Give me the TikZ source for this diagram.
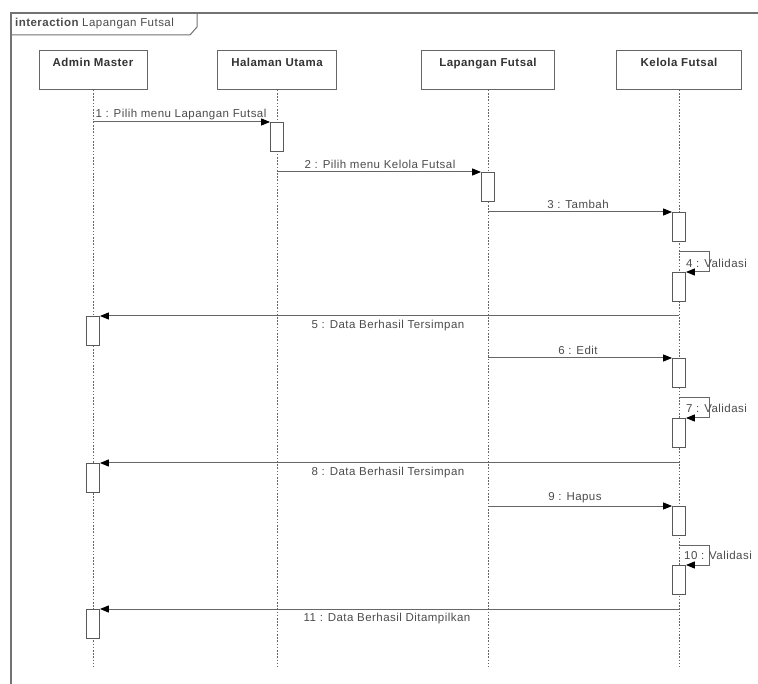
\documentclass[tikz,border=0pt]{standalone}
\usepackage{fontspec}
\newfontfamily\diag[LetterSpace=4]{Liberation Sans}
\usetikzlibrary{arrows.meta}
\begin{document}
\begin{tikzpicture}[x=1pt,y=-1pt,
  every node/.style={font=\diag\fontsize{11.5}{13}\selectfont, text=black!70, inner sep=0pt},
  frameline/.style={draw=black!55, line width=1.3pt},
  head/.style={draw=black!60, line width=0.9pt, fill=white, anchor=north,
     minimum width=#1, text height=8pt, text depth=15pt, inner ysep=8pt, font=\diag\bfseries\fontsize{11.5}{13}\selectfont, text=black!80},
  life/.style={draw=black!60, line width=0.8pt, dash pattern=on 1.6pt off 1.6pt},
  act/.style={draw=black!65, fill=white, line width=0.8pt, minimum width=13pt, minimum height=29pt, anchor=north},
  msg/.style={draw=black!60, line width=1pt, -{Triangle[length=9pt,width=7pt,black]}},
  lbl/.style={anchor=south},
  rlbl/.style={anchor=north},
  slbl/.style={anchor=west}
]
\useasboundingbox (0,0) rectangle (758,684);
\fill[white] (0,0) rectangle (758,684);
\begin{scope}
\clip (0,0) rectangle (758,684);
\draw[frameline] (11,13) rectangle (800,720);
\end{scope}
\draw[draw=black!55, line width=1pt] (11,35) -- (190,35) -- (197,27) -- (197,13);
\node[anchor=west] (title) at (15,24) {\bfseries interaction \mdseries Lapangan Futsal};

% lifeline heads
\node[head=108pt] (hA) at (93,50) {Admin Master};
\node[head=119pt] (hH) at (277,50) {Halaman Utama};
\node[head=133pt] (hL) at (488,50) {Lapangan Futsal};
\node[head=125pt] (hK) at (679,50) {Kelola Futsal};

\coordinate (eA) at (93,666);
\coordinate (eH) at (277,666);
\coordinate (eL) at (488,666);
\coordinate (eK) at (679,666);
\draw[life] (hA.south) -- (eA);
\draw[life] (hH.south) -- (eH);
\draw[life] (hL.south) -- (eL);
\draw[life] (hK.south) -- (eK);

% activations
\node[act] (a1) at (277,122) {};
\node[act] (a2) at (488,172) {};
\node[act] (a3) at (679,212) {};
\node[act] (a4) at (679,272) {};
\node[act] (a5) at (93,316) {};
\node[act] (a6) at (679,358) {};
\node[act] (a7) at (679,418) {};
\node[act] (a8) at (93,463) {};
\node[act] (a9) at (679,506) {};
\node[act] (a10) at (679,565) {};
\node[act] (a11) at (93,609) {};

% message start points
\coordinate (s1) at (93,122);
\coordinate (s2) at (277,172);
\coordinate (s3) at (488,212);
\coordinate (s4) at (679,252);
\coordinate (s5) at (679,316);
\coordinate (s6) at (488,358);
\coordinate (s7) at (679,398);
\coordinate (s8) at (679,463);
\coordinate (s9) at (488,506);
\coordinate (s10) at (679,545);
\coordinate (s11) at (679,609);

\draw[msg] (s1) -- (a1.north west);
\draw[msg] (s2) -- (a2.north west);
\draw[msg] (s3) -- (a3.north west);
\draw[msg] (s4) -- ++(30,0) |- (a4.north east);
\draw[msg] (s5) -- (a5.north east);
\draw[msg] (s6) -- (a6.north west);
\draw[msg] (s7) -- ++(30,0) |- (a7.north east);
\draw[msg] (s8) -- (a8.north east);
\draw[msg] (s9) -- (a9.north west);
\draw[msg] (s10) -- ++(30,0) |- (a10.north east);
\draw[msg] (s11) -- (a11.north east);

% labels
\node[lbl] (l1) at (181,120) {1 : Pilih menu Lapangan Futsal};
\node[lbl] (l2) at (380,169) {2 : Pilih menu Kelola Futsal};
\node[lbl] (l3) at (578,209) {3 : Tambah};
\node[slbl] (l4) at (686,263) {4 : Validasi};
\node[rlbl] (l5) at (388,320) {5 : Data Berhasil Tersimpan};
\node[lbl] (l6) at (578,355) {6 : Edit};
\node[slbl] (l7) at (686,408) {7 : Validasi};
\node[rlbl] (l8) at (388,467) {8 : Data Berhasil Tersimpan};
\node[lbl] (l9) at (575,503) {9 : Hapus};
\node[slbl] (l10) at (684,555) {10 : Validasi};
\node[rlbl] (l11) at (387,613) {11 : Data Berhasil Ditampilkan};
\end{tikzpicture}
\end{document}
